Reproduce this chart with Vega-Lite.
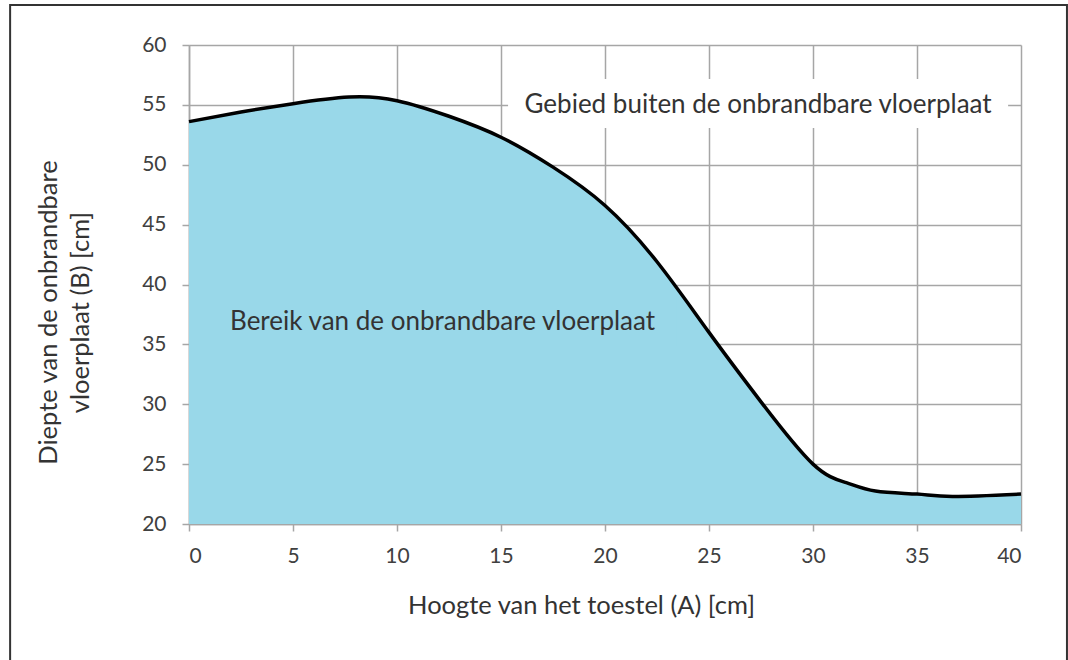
{
  "$schema": "https://vega.github.io/schema/vega-lite/v6.json",
  "autosize": {"type": "none"},
  "width": 832,
  "height": 479,
  "padding": {"left": 189, "top": 45, "right": 47, "bottom": 136},
  "background": "white",
  "config": {
    "view": {"stroke": null},
    "font": "Lato",
    "axis": {
      "gridColor": "#a6a6a6",
      "gridWidth": 1.5,
      "domainColor": "#a6a6a6",
      "domainWidth": 1.5,
      "tickColor": "#a6a6a6",
      "tickWidth": 1.5,
      "tickSize": 7,
      "labelFont": "Lato",
      "labelFontSize": 21,
      "labelColor": "#404040",
      "titleFont": "Lato",
      "titleFontSize": 25.5,
      "titleFontWeight": "normal",
      "titleColor": "#333333",
      "zindex": 1
    }
  },
  "datasets": {
    "curve": [
      {"a": 0, "b": 53.6},
      {"a": 2.5, "b": 54.4},
      {"a": 5, "b": 55.1},
      {"a": 7.7, "b": 55.65},
      {"a": 10, "b": 55.35},
      {"a": 12.5, "b": 54.05},
      {"a": 15, "b": 52.3},
      {"a": 17.5, "b": 49.8},
      {"a": 20, "b": 46.6},
      {"a": 22.5, "b": 41.9},
      {"a": 25, "b": 36.0},
      {"a": 27.5, "b": 30.2},
      {"a": 30, "b": 25.0},
      {"a": 31.6, "b": 23.45},
      {"a": 33, "b": 22.75},
      {"a": 35, "b": 22.5},
      {"a": 36.7, "b": 22.3},
      {"a": 40, "b": 22.5}
    ],
    "labels": [
      {"label": "Gebied buiten de onbrandbare vloerplaat", "x": 27.36, "y": 55.0, "x1": 15.34, "x2": 39.38, "y1": 53.07, "y2": 57.16, "zone": "buiten"},
      {"label": "Bereik van de onbrandbare vloerplaat", "x": 12.19, "y": 36.87, "x1": 1.25, "x2": 23.46, "y1": 34.86, "y2": 39.12, "zone": "binnen"}
    ]
  },
  "layer": [
    {
      "data": {"name": "curve"},
      "mark": {"type": "area", "interpolate": "natural", "color": "#99d8e9", "zindex": 0},
      "encoding": {
        "x": {
          "field": "a", "type": "quantitative",
          "scale": {"domain": [0, 40]},
          "axis": {"values": [0, 5, 10, 15, 20, 25, 30, 35, 40], "title": "Hoogte van het toestel (A) [cm]", "labelPadding": 14, "titleX": 392, "titleY": 81, "titleBaseline": "middle", "titleAnchor": null, "titleAlign": "center"}
        },
        "y": {
          "field": "b", "type": "quantitative",
          "scale": {"domain": [20, 60], "zero": false},
          "axis": {"values": [20, 25, 30, 35, 40, 45, 50, 55, 60], "title": ["Diepte van de onbrandbare", "vloerplaat (B) [cm]"], "labelPadding": 16, "titleX": -141, "titleY": 267, "titleAngle": -90, "titleAlign": "center", "titleBaseline": "middle", "titleLineHeight": 32, "titleAnchor": null}
        },
        "y2": {"datum": 20}
      }
    },
    {
      "data": {"name": "curve"},
      "mark": {"type": "line", "interpolate": "natural", "color": "#000000", "strokeWidth": 3.5, "zindex": 2},
      "encoding": {
        "x": {"field": "a", "type": "quantitative"},
        "y": {"field": "b", "type": "quantitative"}
      }
    },
    {
      "data": {"name": "labels"},
      "mark": {"type": "rect", "zindex": 2},
      "encoding": {
        "x": {"field": "x1", "type": "quantitative"},
        "x2": {"field": "x2"},
        "y": {"field": "y1", "type": "quantitative"},
        "y2": {"field": "y2"},
        "color": {"field": "zone", "type": "nominal", "scale": {"domain": ["buiten", "binnen"], "range": ["#ffffff", "#99d8e9"]}, "legend": null}
      }
    },
    {
      "data": {"name": "labels"},
      "mark": {"type": "text", "font": "Lato", "fontSize": 26, "color": "#333333", "align": "center", "baseline": "middle", "zindex": 3},
      "encoding": {
        "x": {"field": "x", "type": "quantitative"},
        "y": {"field": "y", "type": "quantitative"},
        "text": {"field": "label"}
      }
    },
    {
      "data": {"values": [{"frame": 1}]},
      "mark": {"type": "rect", "fill": null, "stroke": "#333333", "strokeWidth": 2, "clip": false, "zindex": 3},
      "encoding": {
        "x": {"datum": -8.6},
        "x2": {"datum": 42.21},
        "y": {"datum": 63.34},
        "y2": {"datum": 8.0}
      }
    }
  ]
}
